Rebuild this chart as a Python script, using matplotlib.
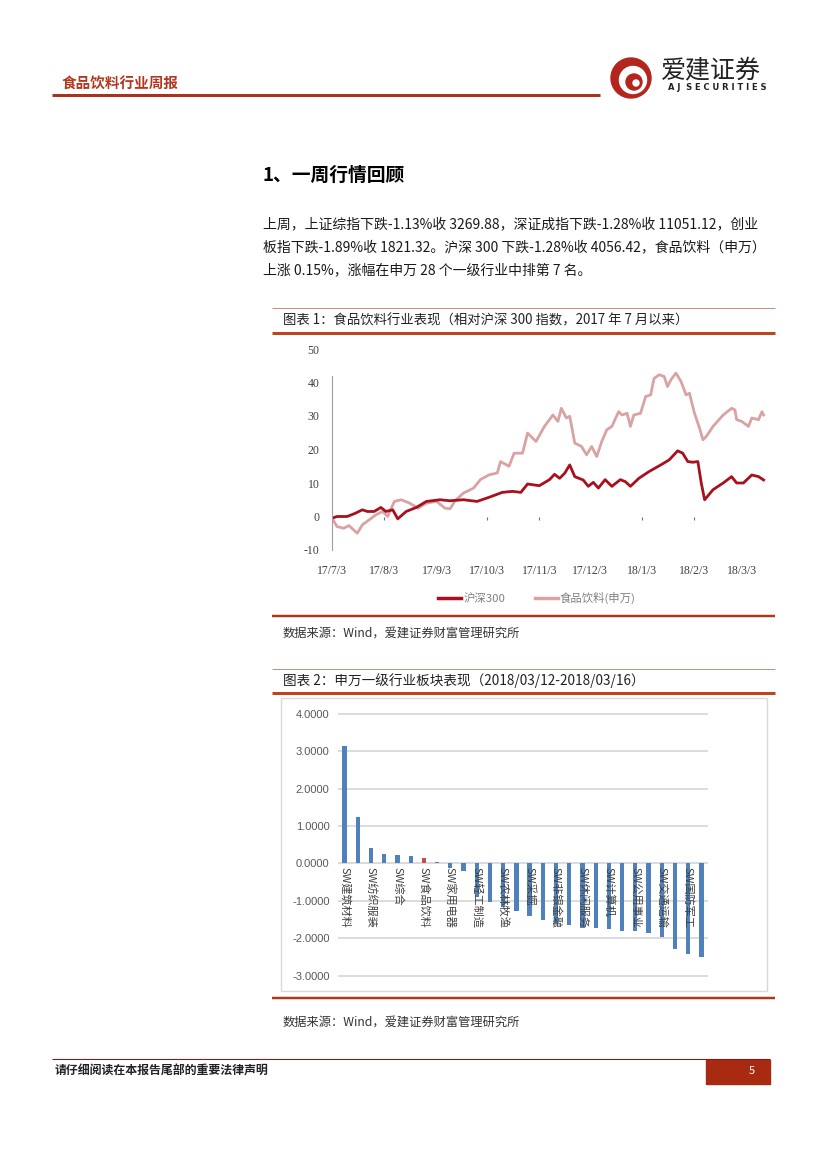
import numpy as np
import pandas as pd
import matplotlib
matplotlib.use("Agg")
import matplotlib.pyplot as plt
from matplotlib.patches import Rectangle, Circle
from matplotlib.lines import Line2D

plt.rcParams['font.family'] = ['Noto Sans CJK SC', 'DejaVu Sans']

W, H = 827, 1169

# ---------------- chart 1: 食品饮料 vs 沪深300 (days since 2017-07-03, %) ----------------
start = pd.Timestamp("2017-07-03")
hs300_days = [0, 3, 9, 14, 18, 21, 25, 29, 32, 36, 39, 44, 50, 56, 64, 70, 78, 86, 93, 101,
              107, 112, 116, 123, 129, 132, 135, 138, 141, 144, 149, 152, 155, 158, 162, 166,
              171, 174, 177, 182, 188, 195, 200, 205, 208, 211, 214, 217, 219, 221, 226, 232,
              237, 240, 244, 249, 253, 256]
hs300_vals = [-0.5, 0, 0, 1, 2, 1.5, 1.5, 2.7, 1.5, 2, -0.7, 1.5, 2.7, 4.5, 5, 4.7, 5, 4.5,
              5.7, 7.2, 7.5, 7.2, 9.7, 9.2, 11, 12.6, 11.4, 12.9, 15.4, 11.9, 10.9, 9, 10.2,
              8.5, 11, 9, 11, 10.4, 9, 11.4, 13.4, 15.4, 16.9, 19.6, 18.9, 16.4, 16.2, 16.4,
              10, 5, 8, 10, 11.9, 10, 10, 12.4, 11.9, 10.9]
food_days = [0, 3, 7, 10, 15, 18, 22, 26, 30, 33, 37, 41, 46, 51, 56, 62, 67, 70, 73, 78,
             84, 88, 93, 98, 100, 105, 108, 113, 116, 121, 126, 131, 134, 136, 139, 141, 144,
             148, 151, 154, 157, 160, 163, 166, 170, 172, 175, 177, 179, 183, 186, 189, 191,
             194, 197, 199, 201, 204, 207, 210, 212, 215, 218, 220, 222, 226, 232, 237, 239,
             240, 243, 247, 249, 253, 255, 256]
food_vals = [-0.5, -3, -3.5, -2.7, -5, -2.5, -1, 0.5, 1.5, 0, 4.5, 5, 4, 2.5, 4, 4.5, 2.5,
             2.3, 4.7, 7, 8.5, 11, 12.4, 13, 16.4, 15, 18.9, 18.9, 24.9, 22.4, 26.9, 30.3,
             28.4, 32.3, 29.4, 29.9, 21.9, 20.9, 18.4, 20.9, 17.9, 22.4, 25.9, 26.9, 31.3,
             30.3, 30.8, 26.9, 30.3, 30.8, 35.8, 36.3, 41.2, 42.3, 41.8, 38.8, 40.8, 42.8,
             40.3, 36.3, 36.8, 30.8, 26.4, 22.9, 23.9, 26.9, 30.3, 32.3, 31.8, 28.9, 28.4,
             26.9, 29.4, 28.9, 31.3, 30.3]
y1_ticks = [-10, 0, 10, 20, 30, 40, 50]

# ---------------- chart 2: 申万一级行业周涨跌幅 ----------------
industries = ["建筑材料", "房地产", "纺织服装", "电子", "综合", "钢铁", "食品饮料", "医药生物",
              "家用电器", "汽车", "轻工制造", "有色金属", "农林牧渔", "银行", "采掘", "传媒",
              "非银金融", "电气设备", "休闲服务", "化工", "计算机", "商业贸易", "公用事业",
              "机械设备", "交通运输", "建筑装饰", "国防军工", "通信"]
weekly_chg = [3.15, 1.25, 0.42, 0.26, 0.23, 0.20, 0.15, 0.03, -0.13, -0.20, -0.90, -1.04,
              -1.17, -1.28, -1.40, -1.52, -1.62, -1.66, -1.72, -1.74, -1.76, -1.80, -1.82,
              -1.87, -1.98, -2.28, -2.42, -2.51]
highlight = "食品饮料"

fig = plt.figure(figsize=(W / 100, H / 100), dpi=100)

# page layer in pixel coordinates
bg = fig.add_axes([0, 0, 1, 1])
bg.set_xlim(0, W)
bg.set_ylim(H, 0)
bg.axis('off')

px = 0.72  # points per pixel


def hline(y, x0, x1, color, lw):
    bg.plot([x0, x1], [y, y], color=color, lw=lw * px, solid_capstyle='butt')


# header
bg.text(62, 84, "食品饮料行业周报", fontsize=10.5, fontweight='bold', color='#b5371f',
        va='center', ha='left')
hline(95, 52, 600, '#a8321b', 3)
bg.add_patch(Circle((631, 78), 20, color='#b3261e'))
bg.add_patch(Circle((633, 80), 13.5, color='white'))
bg.add_patch(Circle((634, 82), 8, color='#b3261e'))
bg.add_patch(Circle((636, 83), 3, color='white'))
bg.text(661, 70, "爱建证券", fontsize=18, color='#222222', va='center', ha='left')
bg.text(668, 88, "A J  S E C U R I T I E S", fontsize=6, fontweight='bold', color='#222222',
        va='center', ha='left', family='DejaVu Sans')

# section text
bg.text(263, 175, "1、一周行情回顾", fontsize=13.5, fontweight='bold', color='black',
        va='center', ha='left')
para = ["上周，上证综指下跌-1.13%收 3269.88，深证成指下跌-1.28%收 11051.12，创业",
        "板指下跌-1.89%收 1821.32。沪深 300 下跌-1.28%收 4056.42，食品饮料（申万）",
        "上涨 0.15%，涨幅在申万 28 个一级行业中排第 7 名。"]
for i, line in enumerate(para):
    bg.text(263, 224 + i * 23.3, line, fontsize=10, color='#1a1a1a', va='center', ha='left')

# chart 1 frame
hline(308, 272, 775, '#c89080', 1)
bg.text(283, 320, "图表 1：食品饮料行业表现（相对沪深 300 指数，2017 年 7 月以来）",
        fontsize=9.6, color='#222222', va='center', ha='left')
hline(333, 272, 775, '#c0441f', 3)
hline(616, 272, 775, '#a83a1e', 2.5)
bg.text(283, 633, "数据来源：Wind，爱建证券财富管理研究所", fontsize=8.8, color='#333333',
        va='center', ha='left')

# chart 2 frame
hline(669, 272, 775, '#c89080', 1)
bg.text(283, 681, "图表 2：申万一级行业板块表现（2018/03/12-2018/03/16）",
        fontsize=9.8, color='#222222', va='center', ha='left')
hline(693, 272, 775, '#c0441f', 3)
bg.add_patch(Rectangle((281, 698), 486, 293, fill=False, edgecolor='#d9d9d9', lw=1))
hline(998, 272, 775, '#a83a1e', 2.5)
bg.text(283, 1022, "数据来源：Wind，爱建证券财富管理研究所", fontsize=8.8, color='#333333',
        va='center', ha='left')

# footer
hline(1059, 52, 770, '#c00000', 1)
bg.text(55, 1071, "请仔细阅读在本报告尾部的重要法律声明", fontsize=8.6, fontweight='bold',
        color='#222222', va='center', ha='left')
bg.add_patch(Rectangle((706, 1060), 64, 24, color='#a82a10'))
bg.text(752, 1071, "5", fontsize=8, color='white', va='center', ha='center')

# ---------------- chart 1 ----------------
ax1 = fig.add_axes([332 / W, 1 - 550 / H, (767 - 332) / W, (550 - 349) / H])
hs_x = start + pd.to_timedelta(hs300_days, unit='D')
fd_x = start + pd.to_timedelta(food_days, unit='D')
ax1.plot(fd_x, food_vals, color='#d9a3a3', lw=2.0, label='食品饮料(申万)')
ax1.plot(hs_x, hs300_vals, color='#a8101e', lw=2.0, label='沪深300')
ax1.set_xlim(start, start + pd.Timedelta(days=258))
ax1.set_ylim(-10, 50)
ax1.set_yticks(y1_ticks)
ax1.set_yticklabels([str(v) for v in y1_ticks], family=['Liberation Serif', 'DejaVu Serif'],
                    fontsize=8.5, color='#404040')
months = pd.date_range("2017-07-01", "2018-03-01", freq="MS") + pd.Timedelta(days=2)
ax1.set_xticks(months)
ax1.set_xticklabels([f"{d.year % 100}/{d.month}/{d.day}" for d in months],
                    family=['Liberation Serif', 'DejaVu Serif'], fontsize=8.5, color='#404040')
ax1.tick_params(axis='x', length=0, pad=11)
ax1.tick_params(axis='y', length=0, pad=9)
ax1.set_yticks([40], minor=True)
ax1.tick_params(axis='y', which='minor', length=3, color='#808080')
for s in ['top', 'right', 'bottom']:
    ax1.spines[s].set_visible(False)
ax1.spines['left'].set_color('#a0a0a0')
ax1.spines['left'].set_linewidth(0.8)
ax1.spines['left'].set_bounds(-10, 42)
ax1.patch.set_alpha(0)
sec = ax1.secondary_xaxis(10 / 60)
sec.spines['bottom'].set_visible(False)
sec.set_xticks([months[1], months[3], months[4], months[6], months[7]])
sec.set_xticklabels([])
sec.tick_params(length=2.5, color='#707070', width=0.8)

h = [Line2D([], [], color='#a8101e', lw=2.5), Line2D([], [], color='#d9a3a3', lw=2.5)]
ax1.legend(h, ['沪深300', '食品饮料(申万)'], ncol=2, loc='center',
           bbox_to_anchor=(537 / W, 1 - 598 / H), bbox_transform=fig.transFigure,
           frameon=False, fontsize=8.2, handlelength=2.0, handletextpad=0.2,
           columnspacing=2.6, labelcolor='#808080')

# ---------------- chart 2 ----------------
ppu = 37.36
ax2 = fig.add_axes([338 / W, 1 - (975.5 + 0.1 * ppu) / H, (708 - 338) / W, (7.2 * ppu) / H])
xpos = np.arange(len(industries))
colors = ['#c0504d' if n == highlight else '#4f81bd' for n in industries]
ax2.bar(xpos, weekly_chg, width=0.32, color=colors, zorder=3)
ax2.set_xlim(-0.5, len(industries) - 0.5)
ax2.set_ylim(-3.1, 4.1)
ax2.set_yticks(np.arange(-3, 5))
ax2.set_yticklabels([f"{v:.4f}" for v in np.arange(-3, 5)], family=['Liberation Sans'],
                    fontsize=8, color='#595959')
ax2.tick_params(axis='y', length=0, pad=6)
ax2.set_xticks([])
ax2.grid(axis='y', color='#d9d9d9', lw=1.3, zorder=0)
for s in ax2.spines.values():
    s.set_visible(False)
ax2.patch.set_alpha(0)
# Excel skips every other category label
for i in range(0, len(industries), 2):
    ax2.annotate("SW" + industries[i], (xpos[i], 0), xytext=(0, -2.5),
                 textcoords='offset points', rotation=-90, rotation_mode='anchor',
                 ha='left', va='center', fontsize=8, color='#404040', zorder=4)

fig.savefig("out.png", dpi=100)
